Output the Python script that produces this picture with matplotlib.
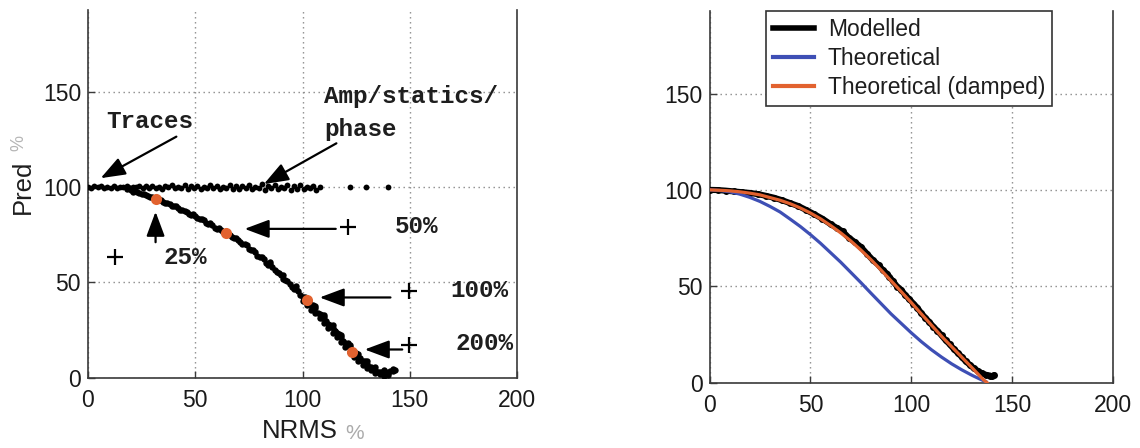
import matplotlib
matplotlib.use("Agg")
import matplotlib.pyplot as plt
from matplotlib.lines import Line2D

# ------------------------------------------------------------------
# Data
# ------------------------------------------------------------------
x_ticks = [0, 50, 100, 150, 200]
y_ticks = [0, 50, 100, 150]

# Amplitude / statics / phase perturbations: predictability stays ~100 %
flat_x = [0, 1.5, 3, 4.5, 6, 7.5, 9, 10.5, 12, 13.5, 15, 16.5, 18, 19.5, 21,
          22.5, 24, 25.5, 27, 28.5, 30, 31.5, 33, 34.5, 36, 37.5, 39, 40.5,
          42, 43.5, 45, 46.5, 48, 49.5, 51, 52.5, 54, 55.5, 57, 58.5, 60,
          61.5, 63, 64.5, 66, 67.5, 69, 70.5, 72, 73.5, 75, 76.5, 78, 79.5,
          81, 82.5, 84, 85.5, 87, 88.5, 90, 91.5, 93, 94.5, 96, 97.5, 99,
          100.5, 102, 103.5, 105, 106.5, 108, 122, 129.5, 140]
flat_y = [100.0, 99.6, 100.4, 99.8, 100.3, 99.5, 100.2, 99.7, 100.5, 99.4,
          100.1, 99.8, 100.6, 99.3, 100.2, 99.9, 100.4, 99.2, 100.3, 99.6,
          100.7, 99.5, 100.1, 99.0, 100.5, 99.8, 100.9, 99.3, 100.2, 99.6,
          100.8, 99.1, 100.3, 99.7, 100.6, 98.9, 100.2, 99.5, 101.0, 99.2,
          100.4, 98.8, 100.1, 99.6, 101.1, 99.0, 100.3, 98.7, 100.6, 99.4,
          101.2, 98.9, 100.0, 99.5, 101.3, 98.6, 100.5, 99.2, 100.9, 98.8,
          100.2, 99.6, 101.0, 98.5, 100.4, 99.1, 100.8, 98.7, 99.9, 99.4,
          100.6, 98.6, 99.8, 99.8, 100.0, 99.9]

# Trace (random noise) perturbations: predictability falls with NRMS
trace_x = [18, 19, 20, 21, 22, 23, 24, 25, 26, 27, 28, 29, 30, 31, 32, 33,
           34, 35, 36, 37, 38, 39, 40, 41, 42, 43, 44, 45, 46, 47, 48, 49,
           50, 51, 52, 53, 54, 55, 56, 57, 58, 59, 60, 61, 62, 63, 64, 65,
           66, 67, 68, 69, 70, 71, 72, 73, 74, 75, 76, 77, 78, 79, 80, 81,
           82, 83, 84, 85, 86, 87, 88, 89, 90, 91, 92, 93, 94, 95, 96, 97,
           98, 99, 100, 101, 102, 103, 104, 105, 106, 107, 108, 109, 110,
           111, 112, 113, 114, 115, 116, 117, 118, 119, 120, 121, 122, 123,
           124, 125, 126, 127, 128, 129, 130, 131, 132, 133, 134, 135, 136,
           137, 138, 139, 140, 141, 142, 143,
           100, 102, 104, 106, 108, 110, 112, 114, 116, 118, 120, 122, 124,
           126, 128, 130, 132, 134, 136, 138, 140,
           106, 110, 114, 118, 122, 126, 130, 134, 138, 142,
           85, 91, 97, 103, 109, 115, 121, 127, 133, 139]
trace_y = [98.9, 99.3, 98.2, 97.6, 97.9, 97.5, 97.0, 96.1, 96.4, 96.0, 95.3,
           94.7, 94.8, 94.1, 93.6, 93.4, 92.9, 92.1, 91.7, 91.6, 91.1, 90.2,
           89.8, 89.9, 89.2, 88.0, 87.7, 87.6, 87.1, 85.8, 85.4, 85.6, 84.9,
           83.5, 83.1, 83.0, 82.4, 81.2, 80.6, 80.9, 80.0, 78.7, 78.1, 78.3,
           77.6, 76.2, 75.7, 75.7, 74.9, 73.5, 73.2, 73.0, 72.4, 71.0, 70.1,
           70.3, 69.3, 67.5, 66.8, 66.9, 65.9, 64.0, 63.2, 63.2, 62.0, 60.2,
           59.3, 59.5, 58.0, 56.3, 55.4, 55.0, 53.6, 51.9, 51.0, 50.6, 49.1,
           47.4, 46.5, 46.4, 45.2, 43.4, 42.5, 42.0, 40.9, 39.0, 37.8, 37.8,
           36.4, 34.1, 33.2, 32.9, 31.6, 29.4, 28.3, 27.8, 26.2, 24.2, 23.6,
           22.7, 21.0, 19.2, 18.2, 17.9, 15.9, 14.0, 12.8, 12.6, 11.0, 9.3,
           8.4, 8.6, 7.1, 5.6, 5.3, 5.0, 4.0, 3.0, 2.9, 2.8, 2.2, 1.8, 2.6,
           3.2, 3.6, 3.9,
           40.0, 38.2, 35.5, 33.8, 31.0, 28.6, 26.0, 23.6, 21.0, 18.5, 16.0,
           13.2, 10.8, 8.6, 6.5, 5.0, 3.8, 2.4, 1.6, 1.0, 1.2,
           37.5, 32.8, 27.4, 22.5, 17.2, 12.5, 8.4, 5.5, 4.0, 4.5,
           60.5, 54.0, 47.8, 39.9, 31.0, 24.4, 17.0, 10.4, 4.2, 2.9]

# Highlighted noise levels on the trace curve
level_x = [31.5, 64.5, 102.0, 123.0]
level_y = [93.5, 76.0, 40.8, 13.6]
level_labels = ["25%", "50%", "100%", "200%"]
plus_x = [12.6, 121.4, 149.5, 149.7]
plus_y = [63.3, 79.2, 45.6, 17.1]

# Right panel curves
model_x = [0, 4, 8, 12, 16, 20, 24, 28, 32, 36, 40, 44, 48, 52, 56, 60, 63,
           66, 69, 72, 75, 78, 81, 84, 86, 88, 89, 91, 93, 95, 97, 99, 101,
           103, 105, 107, 109, 111, 113, 115, 117, 119, 121, 123, 125, 127,
           129, 131, 133, 135, 137, 139, 140, 141]
model_y = [100, 99.9, 99.6, 99.2, 98.8, 98.4, 97.8, 96.9, 95.9, 94.6, 93.1,
           91.6, 89.5, 87.3, 85.0, 82.2, 80.3, 78.4, 75.2, 72.9, 70.4, 66.9,
           63.5, 60.8, 58.2, 56.5, 55.0, 52.5, 49.8, 48.1, 45.4, 43.3, 41.0,
           38.8, 35.9, 33.6, 31.3, 28.9, 26.8, 24.5, 22.0, 19.9, 17.5, 15.4,
           13.3, 11.0, 9.2, 7.4, 6.0, 4.8, 4.0, 3.6, 3.2, 3.8]

theo_x = [0, 5, 10, 15, 20, 25, 30, 35, 40, 45, 50, 55, 60, 65, 70, 75, 80,
          85, 90, 95, 100, 105, 110, 115, 120, 125, 130, 134, 137]
theo_y = [100, 99.7, 99.0, 97.8, 96.1, 94.0, 91.4, 88.5, 84.8, 81.0, 76.8,
          72.3, 67.4, 62.5, 57.2, 51.9, 46.4, 41.0, 35.6, 30.7, 25.8, 21.2,
          17.0, 13.2, 9.7, 6.6, 3.8, 1.8, 0.4]

damp_x = [0, 5, 10, 15, 20, 25, 30, 35, 40, 45, 50, 55, 60, 65, 70, 75, 80,
          85, 90, 95, 100, 105, 110, 115, 120, 125, 130, 133, 136, 137.5]
damp_y = [100, 99.8, 99.5, 99.0, 98.3, 97.4, 96.0, 94.6, 92.8, 90.6, 88.0,
          85.0, 81.5, 77.7, 73.5, 68.8, 63.8, 58.4, 52.8, 47.2, 41.5, 35.6,
          29.8, 24.0, 18.6, 13.2, 7.8, 4.5, 1.2, 0.0]

# ------------------------------------------------------------------
# Figure
# ------------------------------------------------------------------
W, H = 1140, 448
fig = plt.figure(figsize=(W / 100, H / 100), dpi=100)
fig.patch.set_facecolor("white")

SANS = ["Liberation Sans", "DejaVu Sans"]
MONO = ["Liberation Mono", "DejaVu Sans Mono"]
ORANGE = "#e2622f"
BLUE = "#3e4fb5"
TICK_SIZE = 16.5


def px_box(left, top, right, bottom):
    return [left / W, 1 - bottom / H, (right - left) / W, (bottom - top) / H]


def style_axes(ax):
    ax.set_xlim(0, 200)
    ax.set_ylim(0, 192.6)
    ax.set_xticks(x_ticks)
    ax.set_yticks(y_ticks)
    ax.spines["top"].set_visible(False)
    for s in ("left", "right", "bottom"):
        ax.spines[s].set_color("#3a3a3a")
        ax.spines[s].set_linewidth(1.2)
    ax.tick_params(direction="in", length=5, width=1, colors="#3a3a3a",
                   labelcolor="#1a1a1a", labelsize=TICK_SIZE)
    ax.tick_params(axis="x", pad=8)
    ax.tick_params(axis="y", pad=5)
    for lab in ax.get_xticklabels() + ax.get_yticklabels():
        lab.set_family(SANS)
    ax.grid(True, color="#8a8a8a", linewidth=1.0, linestyle=(0, (1, 2.6)))
    ax.set_axisbelow(True)


axL = fig.add_axes(px_box(88, 10.5, 517, 377.5))
axR = fig.add_axes(px_box(709.5, 11.5, 1113, 382.5))
style_axes(axL)
style_axes(axR)

# ---- left panel: scatter of predictability vs NRMS ----
axL.plot(flat_x, flat_y, "o", ms=4.2, color="black", mec="none", zorder=3)
axL.plot(trace_x, trace_y, "o", ms=4.6, color="black", mec="none", zorder=3)
axL.plot(level_x, level_y, "o", ms=8.0, color=ORANGE, mec="none", zorder=4)
axL.plot(plus_x, plus_y, "+", ms=11, mew=1.6, color="black", zorder=4,
         linestyle="none")

arrow_style = dict(arrowstyle="-|>,head_length=0.75,head_width=0.28",
                   color="black", lw=1.6, mutation_scale=20,
                   shrinkA=0, shrinkB=0)

# arrows pointing at the highlighted noise levels
axL.annotate("", xy=(level_x[0], 87.0), xytext=(level_x[0], 71.0),
             arrowprops=arrow_style, zorder=5)
axL.annotate("", xy=(73.0, 78.0), xytext=(115.5, 78.0),
             arrowprops=arrow_style, zorder=5)
axL.annotate("", xy=(108.0, 42.0), xytext=(141.0, 42.0),
             arrowprops=arrow_style, zorder=5)
axL.annotate("", xy=(129.0, 14.7), xytext=(146.5, 14.7),
             arrowprops=arrow_style, zorder=5)

# arrows for the two groups
axL.annotate("", xy=(5.9, 104.6), xytext=(41.2, 126.4),
             arrowprops=arrow_style, zorder=5)
axL.annotate("", xy=(82.0, 101.5), xytext=(115.8, 122.9),
             arrowprops=arrow_style, zorder=5)

mono_kw = dict(family=MONO, fontweight="bold", fontsize=17.5, color="#1e1e1e",
               va="center", ha="left")
axL.text(8.5, 134.3, "Traces", **mono_kw)
axL.text(110.0, 147.4, "Amp/statics/", **mono_kw)
axL.text(110.0, 129.9, "phase", **mono_kw)

label_pos = [(35.3, 63.1), (143.2, 79.2), (168.9, 45.6), (171.2, 18.0)]
for (tx, ty), lab in zip(label_pos, level_labels):
    axL.text(tx, ty, lab, clip_on=False, **mono_kw)

# axis labels of the left panel
fig.text(300 / W, 1 - 431 / H, "NRMS", family=SANS, fontsize=18.5,
         color="#1e1e1e", ha="center", va="center")
fig.text(355 / W, 1 - 433 / H, "%", family=SANS, fontsize=15,
         color="#ababab", ha="center", va="center")
fig.text(23 / W, 1 - 187 / H, "Pred", family=SANS, fontsize=18.5,
         color="#1e1e1e", ha="center", va="center", rotation=90)
fig.text(19 / W, 1 - 143 / H, "%", family=SANS, fontsize=13,
         color="#b5b5b5", ha="center", va="center", rotation=90)

# ---- right panel: modelled vs theoretical curves ----
axR.plot(model_x, model_y, color="black", lw=4.4, solid_capstyle="round",
         solid_joinstyle="round", zorder=3)
axR.plot(model_x, model_y, "o", ms=5.0, color="black", mec="none", zorder=3)
axR.plot(theo_x, theo_y, color=BLUE, lw=2.3, zorder=4)
axR.plot(damp_x, damp_y, color=ORANGE, lw=2.3, zorder=5)

handles = [Line2D([], [], color="black", lw=4.0),
           Line2D([], [], color=BLUE, lw=3.0),
           Line2D([], [], color=ORANGE, lw=3.0)]
labels = ["Modelled", "Theoretical", "Theoretical (damped)"]
leg = axR.legend(handles, labels, loc="upper left",
                 bbox_to_anchor=(0.14, 1.0), frameon=True, fancybox=False,
                 edgecolor="#333333", framealpha=1, borderaxespad=0,
                 handlelength=1.8, handletextpad=0.6, borderpad=0.3,
                 labelspacing=0.25, prop={"family": SANS, "size": 16.5})
leg.get_frame().set_linewidth(1.2)
for t in leg.get_texts():
    t.set_color("#1e1e1e")

fig.savefig("out.png", dpi=100, facecolor="white")
